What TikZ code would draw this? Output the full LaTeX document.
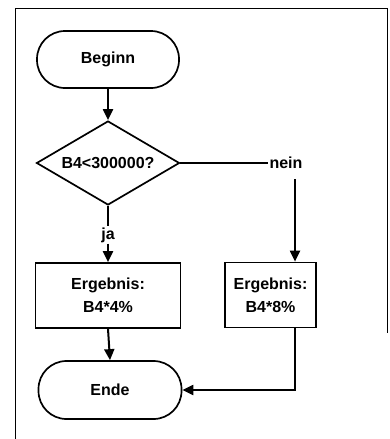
\documentclass[tikz,border=0pt]{standalone}
\usepackage{fontspec}
\setmainfont{Liberation Sans}
\usetikzlibrary{shapes.geometric,arrows.meta}
\begin{document}
\begin{tikzpicture}[x=1pt,y=-1pt,
  every node/.style={font=\fontsize{16}{23}\selectfont\bfseries},
  term/.style={draw,line width=1.7pt,rounded corners=28pt,minimum width=142pt,minimum height=57pt,inner sep=0pt},
  proc/.style={draw,line width=1.7pt,minimum height=65pt,inner sep=0pt,align=center},
  dec/.style={draw,line width=1.7pt,shape=diamond,aspect=1.7,minimum width=143pt,minimum height=84pt,inner sep=0pt},
  lbl/.style={inner sep=1pt},
  conn/.style={line width=1.6pt},
  arr/.style={line width=2pt,-{Triangle[length=11pt,width=10pt]}}]
\useasboundingbox (0,0) rectangle (389,439);
\draw[line width=0.9pt] (15,439) -- (15,8) -- (387,8) -- (387,333);
\node[term] (beg) at (108,59.5) {Beginn};
\node[dec] (dec) at (108,163) {B4<300000?};
\node[lbl] (nein) at (286,163) {nein};
\node[lbl] (ja) at (108,235) {ja};
\node[proc,minimum width=145pt] (lbox) at (108,295.5) {Ergebnis:\\B4*4\%};
\node[proc,minimum width=91pt] (rbox) at (270.5,295) {Ergebnis:\\B4*8\%};
\node[term,minimum width=143pt,minimum height=58pt] (ende) at (110,390) {Ende};
\coordinate (rc) at (295,179);
\draw[arr] (beg) -- (dec);
\draw[conn] (dec.east) -- (nein.west);
\draw[arr] (rc) -- (rc |- rbox.north);
\draw[conn] (dec.south) -- (ja.north);
\draw[arr] (ja.south) -- (lbox.north);
\draw[arr] (lbox.south) -- (ende.north);
\draw[arr] (rc |- rbox.south) -- (rc |- ende.east) -- (ende.east);
\end{tikzpicture}
\end{document}
